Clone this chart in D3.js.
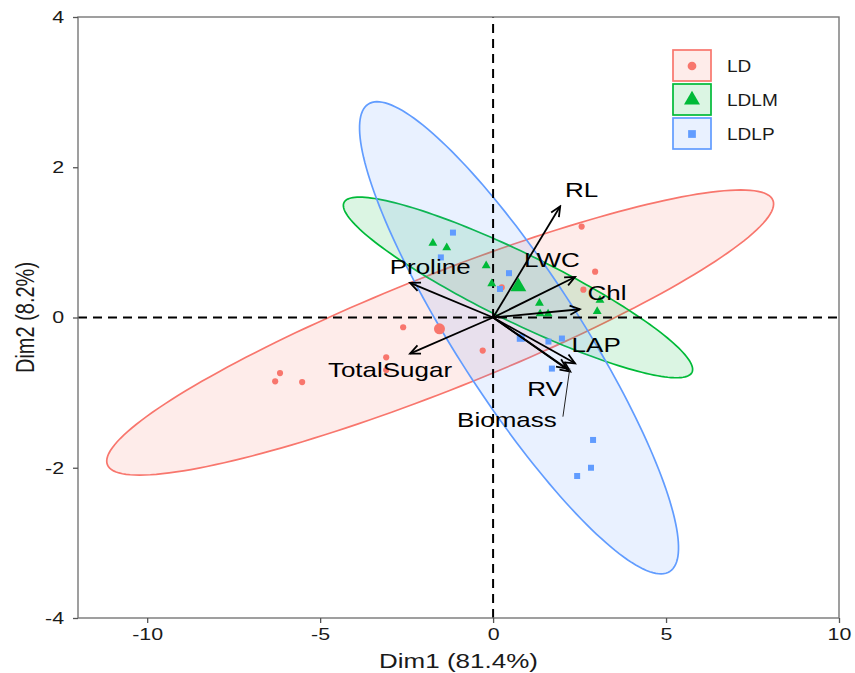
<!DOCTYPE html>
<html>
<head>
<meta charset="utf-8">
<script src="https://cdn.jsdelivr.net/npm/d3@7"></script>
<style>
  body { margin: 0; background: #fff; }
  text { font-family: "Liberation Sans", Arial, sans-serif; }
</style>
</head>
<body>
<div id="chart"></div>
<script>
// individuals (Dim1, Dim2) per group
var groups = ["LD", "LDLM", "LDLP"];
var colors = ["#F8766D", "#00BA38", "#619CFF"];

var ldPoints = [[2.56, 1.21], [2.95, 0.61], [2.61, 0.37], [0.25, 0.40], [-2.60, -0.13], [-0.30, -0.44],
                [-3.09, -0.53], [-3.09, -0.70], [-6.16, -0.74], [-6.30, -0.85], [-5.52, -0.86]];
var ldlmPoints = [[-1.74, 0.99], [-1.34, 0.93], [-0.20, 0.69], [-0.04, 0.45], [1.34, 0.19], [1.36, 0.05],
                  [1.59, 0.05], [3.09, 0.23], [3.01, 0.08]];
var ldlpPoints = [[-1.16, 1.13], [-1.51, 0.80], [0.46, 0.59], [0.20, 0.38], [1.60, -0.32], [1.99, -0.28],
                  [1.70, -0.68], [2.89, -1.63], [2.83, -2.00], [2.43, -2.11]];

// group means
var groupMeans = [[-1.55, -0.15], [0.73, 0.41], [0.80, -0.27]];

// confidence ellipses: center + two conjugate half-axes (data units)
var ellipseCenter = [[-1.53, -0.20], [0.72, 0.40], [0.75, -0.27]];
var ellipseMajor = [[9.62, 1.76], [5.03, -1.13], [4.36, -3.11]];
var ellipseMinor = [[-0.61, 0.71], [-0.43, -0.41], [1.50, 0.45]];

// variable loadings (arrows)
var varNames = ["RL", "LWC", "Chl", "Proline", "TotalSugar", "LAP", "RV", "Biomass"];
var varDim1 = [1.94, 2.37, 2.51, -2.40, -2.40, 2.37, 2.23, 2.13];
var varDim2 = [1.48, 0.54, 0.11, 0.46, -0.48, -0.61, -0.72, -0.68];
var labelDim1 = [2.56, 1.70, 3.29, -1.82, -2.98, 2.98, 1.50, 0.40];
var labelDim2 = [1.70, 0.77, 0.33, 0.67, -0.70, -0.37, -0.95, -1.36];

var xTicks = [-10, -5, 0, 5, 10];
var yTicks = [-4, -2, 0, 2, 4];

var width = 855, height = 673;
var x = d3.scaleLinear().domain([-12, 10]).range([78, 839]);
var y = d3.scaleLinear().domain([-4, 4]).range([618, 17]);

var svg = d3.select("#chart").append("svg").attr("width", width).attr("height", height);

svg.append("defs").append("marker")
  .attr("id", "head").attr("markerUnits", "userSpaceOnUse")
  .attr("viewBox", "-12 -6 14 12").attr("markerWidth", 14).attr("markerHeight", 12)
  .attr("refX", 0).attr("refY", 0).attr("orient", "auto")
  .append("path").attr("d", "M-10,-4.5L0,0L-10,4.5")
  .attr("fill", "none").attr("stroke", "black").attr("stroke-width", 1.8);

// ellipses
var t = d3.range(0, 2 * Math.PI + 0.01, Math.PI / 90);
var line = d3.line().x(function(d) { return x(d[0]); }).y(function(d) { return y(d[1]); });
groups.forEach(function(g, i) {
  var c = ellipseCenter[i], a = ellipseMajor[i], b = ellipseMinor[i];
  var pts = t.map(function(s) {
    return [c[0] + a[0] * Math.cos(s) + b[0] * Math.sin(s), c[1] + a[1] * Math.cos(s) + b[1] * Math.sin(s)];
  });
  svg.append("path").attr("d", line(pts) + "Z")
    .attr("fill", colors[i]).attr("fill-opacity", 0.14)
    .attr("stroke", colors[i]).attr("stroke-width", 1.7);
});

// reference lines
svg.append("line").attr("x1", x(-12)).attr("x2", x(10)).attr("y1", y(0)).attr("y2", y(0))
  .attr("stroke", "black").attr("stroke-width", 2).attr("stroke-dasharray", "9,6");
svg.append("line").attr("x1", x(0)).attr("x2", x(0)).attr("y1", y(-4)).attr("y2", y(4))
  .attr("stroke", "black").attr("stroke-width", 2).attr("stroke-dasharray", "9,6");

// points
var shapes = [d3.symbolCircle, d3.symbolTriangle, d3.symbolSquare];
var smallSize = [30, 34, 36];
var bigSize = [95, 110, 64];
[ldPoints, ldlmPoints, ldlpPoints].forEach(function(pts, i) {
  svg.selectAll(null).data(pts).enter().append("path")
    .attr("d", d3.symbol().type(shapes[i]).size(smallSize[i]))
    .attr("transform", function(d) { return "translate(" + x(d[0]) + "," + y(d[1]) + ")"; })
    .attr("fill", colors[i]);
  svg.append("path")
    .attr("d", d3.symbol().type(shapes[i]).size(bigSize[i]))
    .attr("transform", "translate(" + x(groupMeans[i][0]) + "," + y(groupMeans[i][1]) + ")")
    .attr("fill", colors[i]);
});

// arrows
svg.selectAll(null).data(varNames).enter().append("line")
  .attr("x1", x(0)).attr("y1", y(0))
  .attr("x2", function(d, i) { return x(varDim1[i]); })
  .attr("y2", function(d, i) { return y(varDim2[i]); })
  .attr("stroke", "black").attr("stroke-width", 1.8)
  .attr("marker-end", "url(#head)");

// leader line for Biomass label
var bi = varNames.indexOf("Biomass");
svg.append("line")
  .attr("x1", x(labelDim1[bi]) + 56).attr("y1", y(labelDim2[bi]) - 3)
  .attr("x2", x(varDim1[bi]) + 3).attr("y2", y(varDim2[bi]))
  .attr("stroke", "#222").attr("stroke-width", 1);

// arrow labels (the reference is stretched horizontally)
svg.selectAll(null).data(varNames).enter().append("g")
  .attr("transform", function(d, i) { return "translate(" + x(labelDim1[i]) + "," + y(labelDim2[i]) + ") scale(1.3,1)"; })
  .append("text").attr("text-anchor", "middle").attr("dominant-baseline", "central")
  .style("font-size", "20px").attr("fill", "black").text(function(d) { return d; });

// panel border
svg.append("rect").attr("x", x(-12)).attr("y", y(4))
  .attr("width", x(10) - x(-12)).attr("height", y(-4) - y(4))
  .attr("fill", "none").attr("stroke", "#777").attr("stroke-width", 1.4);

// axes
var gx = svg.append("g").attr("transform", "translate(0," + y(-4) + ")")
  .call(d3.axisBottom(x).tickValues(xTicks).tickSize(5).tickPadding(5).tickFormat(d3.format("d")));
var gy = svg.append("g").attr("transform", "translate(" + x(-12) + ",0)")
  .call(d3.axisLeft(y).tickValues(yTicks).tickSize(5).tickPadding(6).tickFormat(d3.format("d")));
[gx, gy].forEach(function(g) {
  g.select(".domain").remove();
  g.selectAll(".tick line").attr("stroke", "#555").attr("stroke-width", 1.3);
  g.selectAll(".tick text").style("font-size", "17px").attr("fill", "#1a1a1a")
    .style("font-family", "'Liberation Sans', Arial, sans-serif")
    .attr("transform", "scale(1.26,1)");
});
// hyphen-minus as in the reference
gx.selectAll(".tick text").text(function(d) { return String(d); });
gy.selectAll(".tick text").text(function(d) { return String(d); });

// axis titles
svg.append("g").attr("transform", "translate(" + ((x(-12) + x(10)) / 2) + ",661) scale(1.3,1)")
  .append("text").attr("text-anchor", "middle").attr("dominant-baseline", "central")
  .style("font-size", "20px").attr("fill", "#1a1a1a").text("Dim1 (81.4%)");
svg.append("g").attr("transform", "translate(25," + ((y(-4) + y(4)) / 2) + ") scale(1.3,1) rotate(-90)")
  .append("text").attr("text-anchor", "middle").attr("dominant-baseline", "central")
  .style("font-size", "20px").attr("fill", "#1a1a1a").text("Dim2 (8.2%)");

// legend
var legend = svg.append("g").attr("transform", "translate(673,50)");
groups.forEach(function(g, i) {
  var item = legend.append("g").attr("transform", "translate(0," + (i * 34) + ")");
  item.append("rect").attr("width", 38).attr("height", 31)
    .attr("fill", colors[i]).attr("fill-opacity", 0.14)
    .attr("stroke", colors[i]).attr("stroke-width", 1.7);
  item.append("path").attr("d", d3.symbol().type(shapes[i]).size(i === 1 ? 110 : 60))
    .attr("transform", "translate(19,16)").attr("fill", colors[i]);
  item.append("g").attr("transform", "translate(54,16) scale(1.12,1)")
    .append("text").attr("dominant-baseline", "central")
    .style("font-size", "17px").attr("fill", "#1a1a1a").text(g);
});
</script>
</body>
</html>
